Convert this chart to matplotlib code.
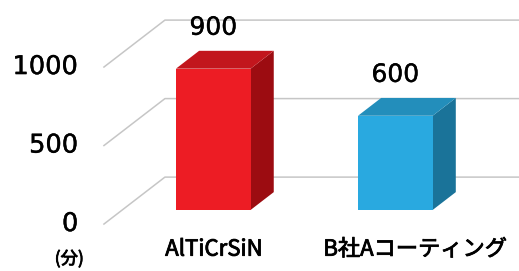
import matplotlib
matplotlib.use("Agg")
import matplotlib.pyplot as plt
import matplotlib.patheffects as pe
from matplotlib.patches import Polygon

plt.rcParams['font.family'] = ['DejaVu Sans', 'Noto Sans CJK JP']

categories = ["AlTiCrSiN", "B社Aコーティング"]
values = [900, 600]
yticks = [0, 500, 1000]
unit_label = "(分)"

# colours per bar: front, top, side
faces = [("#ED1C24", "#C2161D", "#9C0C11"),
         ("#29A9E0", "#238EBB", "#1A7399")]

# fake 3d: a unit of depth moves points right and up
DX, DY = 0.335, 299.0
bar_w = 0.41
d_front, d_back = 0.30, 0.68

fig = plt.figure(figsize=(5.19, 2.71), dpi=100)
ax = fig.add_axes([0, 0, 1, 1])
ax.set_xlim(-1.071, 1.780)
ax.set_ylim(-299, 1427)
ax.axis("off")

semibold = [pe.withStroke(linewidth=0.6, foreground="black")]

def proj(x, v, d):
    return (x + d * DX, v + d * DY)

# gridlines: slanted left part + line along the back wall
for t in yticks:
    p0 = proj(-0.5, t, 0)
    p1 = proj(-0.5, t, 1)
    ax.plot([p0[0], p1[0], 3], [p0[1], p1[1], p1[1]], color="#C6C6C6", lw=1.1, zorder=1)
    ax.text(-0.64, t, str(t), ha="right", va="center", fontsize=18.5, color="black",
            path_effects=[pe.withStroke(linewidth=0.3, foreground="black")])

ax.text(-0.69, -222, unit_label, ha="center", va="center", fontsize=12.5,
        family=["Noto Sans CJK JP"], path_effects=semibold)

for i, (v, (cf, ct, cs)) in enumerate(zip(values, faces)):
    x0, x1 = i - bar_w / 2, i + bar_w / 2
    front = [proj(x0, 0, d_front), proj(x1, 0, d_front), proj(x1, v, d_front), proj(x0, v, d_front)]
    top = [proj(x0, v, d_front), proj(x1, v, d_front), proj(x1, v, d_back), proj(x0, v, d_back)]
    side = [proj(x1, 0, d_front), proj(x1, 0, d_back), proj(x1, v, d_back), proj(x1, v, d_front)]
    for pts, c in [(side, cs), (top, ct), (front, cf)]:
        ax.add_patch(Polygon(pts, closed=True, facecolor=c, edgecolor="none", zorder=3))
    lx, ly = proj(i, v, d_back)
    ax.annotate(str(v), (i + d_front * DX, ly), xytext=(0, 8), textcoords="offset points",
                ha="center", va="bottom", fontsize=18,
                path_effects=[pe.withStroke(linewidth=0.3, foreground="black")])

label_x = [0.105, 1.21]
for lx, c in zip(label_x, categories):
    ax.text(lx, -160, c, ha="center", va="center", fontsize=16,
            family=["Noto Sans CJK JP"], path_effects=semibold)

fig.savefig("out.png", dpi=100)
